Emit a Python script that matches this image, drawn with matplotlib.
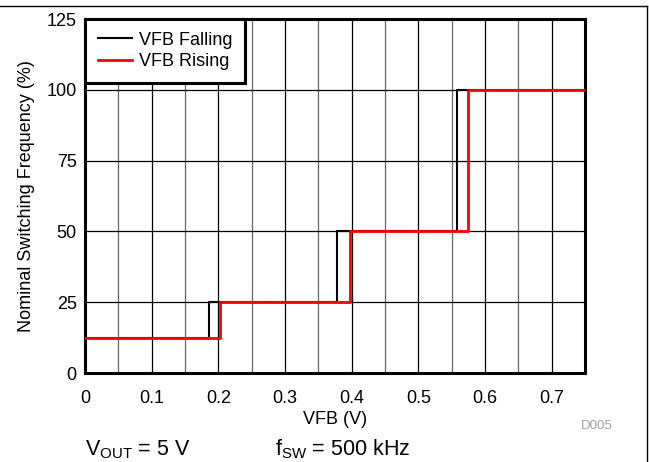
import numpy as np
import matplotlib.pyplot as plt
from matplotlib.lines import Line2D

plt.rcParams['font.family'] = ['Liberation Sans', 'DejaVu Sans']

# step curves (VFB in V, frequency in %)
vfb_falling = [0, 0.186, 0.186, 0.3775, 0.3775, 0.5575, 0.5575, 0.75]
freq_falling = [12.5, 12.5, 25, 25, 50, 50, 100, 100]
vfb_rising = [0, 0.2025, 0.2025, 0.3975, 0.3975, 0.575, 0.575, 0.75]
freq_rising = [12.5, 12.5, 25, 25, 50, 50, 100, 100]

x_ticks = [0, 0.1, 0.2, 0.3, 0.4, 0.5, 0.6, 0.7]
x_tick_labels = ['0', '0.1', '0.2', '0.3', '0.4', '0.5', '0.6', '0.7']
y_ticks = [0, 25, 50, 75, 100, 125]

fig = plt.figure(figsize=(6.49, 4.62), dpi=100)
ax = fig.add_axes([85/649, 1 - 373/462, 500/649, 354/462])

ax.plot(vfb_falling, freq_falling, color='black', lw=1.5, label='VFB Falling', zorder=3)
ax.plot(vfb_rising, freq_rising, color='#ff0000', lw=2, label='VFB Rising', zorder=4)

ax.set_xlim(0, 0.75)
ax.set_ylim(0, 125)
ax.set_xticks(x_ticks)
ax.set_xticklabels(x_tick_labels)
ax.set_xticks(np.arange(0.05, 0.75, 0.1), minor=True)
ax.set_yticks(y_ticks)
ax.grid(True, which='major', color='black', lw=0.9)
ax.grid(True, which='minor', axis='x', color='#666666', lw=0.9)
ax.tick_params(which='both', length=0, labelsize=13)
ax.tick_params(axis='x', pad=12)
ax.tick_params(axis='y', pad=6)
for s in ax.spines.values():
    s.set_linewidth(2.2)

ax.set_xlabel('VFB (V)', fontsize=13, labelpad=3)
ax.set_ylabel('Nominal Switching Frequency (%)', fontsize=13, labelpad=8)

leg = ax.legend(loc='upper left', fontsize=13, fancybox=False, framealpha=1,
                edgecolor='black', borderaxespad=0, handlelength=1.9,
                handletextpad=0.4, labelspacing=0.25, borderpad=0.7)
leg.get_frame().set_linewidth(2.2)

fig.text(581/649, 1 - 426/462, 'D005', color='#a0a0a0', fontsize=9.5, va='center')
fig.text(85/649, 1 - 455/462, r'V$_{\mathregular{OUT}}$ = 5 V', fontsize=15.5, va='baseline')
fig.text(275/649, 1 - 455/462, r'f$_{\mathregular{SW}}$ = 500 kHz', fontsize=15.5, va='baseline')

# outer frame lines (top and right)
fig.add_artist(Line2D([0, 647/649], [1 - 6/462, 1 - 6/462], transform=fig.transFigure, color='black', lw=1))
fig.add_artist(Line2D([647/649, 647/649], [0, 1 - 6/462], transform=fig.transFigure, color='black', lw=1))

fig.savefig('out.png', dpi=100)
